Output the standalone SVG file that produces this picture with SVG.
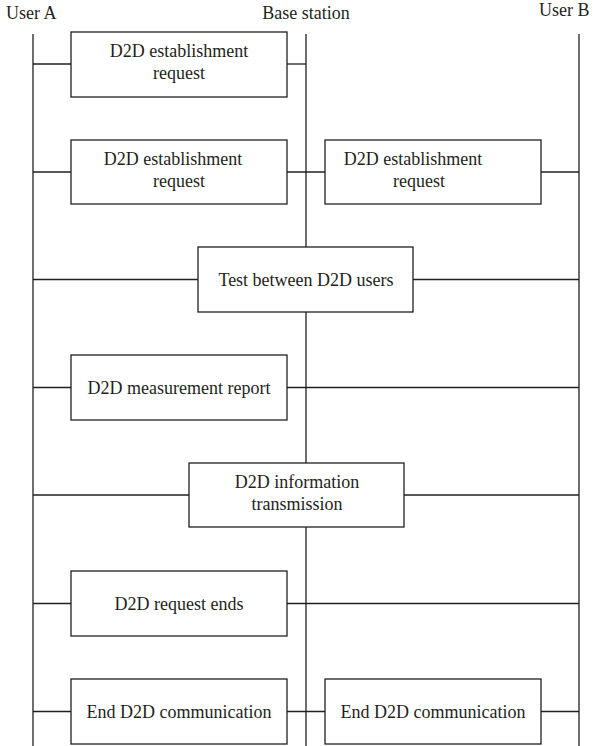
<svg xmlns="http://www.w3.org/2000/svg" width="605" height="746" viewBox="0 0 605 746">
<style>
  .ll { stroke: #231f20; stroke-width: 1.3; fill: none; }
  .cn { stroke: #231f20; stroke-width: 1.3; fill: none; }
  .box { fill: #ffffff; stroke: #231f20; stroke-width: 1.3; }
</style>
<rect width="605" height="746" fill="#ffffff"/>
<g id="headers">
  <text font-family="Liberation Serif" font-size="18" fill="#231f20" x="6" y="19">User A</text>
  <text font-family="Liberation Serif" font-size="18" fill="#231f20" text-anchor="middle" x="306" y="19">Base station</text>
  <text font-family="Liberation Serif" font-size="18" fill="#231f20" x="539" y="16">User B</text>
</g>
<g id="lifelines">
  <line class="ll" x1="33" y1="34" x2="33" y2="746"/>
  <line class="ll" x1="306" y1="34" x2="306" y2="746"/>
  <line class="ll" x1="579" y1="34" x2="579" y2="746"/>
</g>
<g id="connectors">
  <line class="cn" x1="33" y1="64" x2="71" y2="64"/>
  <line class="cn" x1="287" y1="64" x2="306" y2="64"/>
  <line class="cn" x1="33" y1="172" x2="71" y2="172"/>
  <line class="cn" x1="287" y1="172" x2="325" y2="172"/>
  <line class="cn" x1="541" y1="172" x2="579" y2="172"/>
  <line class="cn" x1="33" y1="279.5" x2="198" y2="279.5"/>
  <line class="cn" x1="413" y1="279.5" x2="579" y2="279.5"/>
  <line class="cn" x1="33" y1="387.5" x2="71" y2="387.5"/>
  <line class="cn" x1="287" y1="387.5" x2="579" y2="387.5"/>
  <line class="cn" x1="33" y1="495" x2="189" y2="495"/>
  <line class="cn" x1="404" y1="495" x2="579" y2="495"/>
  <line class="cn" x1="33" y1="603.5" x2="71" y2="603.5"/>
  <line class="cn" x1="287" y1="603.5" x2="579" y2="603.5"/>
  <line class="cn" x1="33" y1="711.5" x2="71" y2="711.5"/>
  <line class="cn" x1="287" y1="711.5" x2="325" y2="711.5"/>
  <line class="cn" x1="541" y1="711.5" x2="579" y2="711.5"/>
</g>
<g id="n1">
  <rect class="box" x="71" y="32" width="216" height="65"/>
  <text font-family="Liberation Serif" font-size="18" fill="#231f20" text-anchor="middle" x="179" y="57">D2D establishment</text>
  <text font-family="Liberation Serif" font-size="18" fill="#231f20" text-anchor="middle" x="179" y="79">request</text>
</g>
<g id="n2">
  <rect class="box" x="71" y="140" width="216" height="64"/>
  <text font-family="Liberation Serif" font-size="18" fill="#231f20" text-anchor="middle" x="173" y="164.5">D2D establishment</text>
  <text font-family="Liberation Serif" font-size="18" fill="#231f20" text-anchor="middle" x="179" y="186.5">request</text>
</g>
<g id="n3">
  <rect class="box" x="325" y="140" width="216" height="64"/>
  <text font-family="Liberation Serif" font-size="18" fill="#231f20" text-anchor="middle" x="413" y="164.5">D2D establishment</text>
  <text font-family="Liberation Serif" font-size="18" fill="#231f20" text-anchor="middle" x="419" y="186.5">request</text>
</g>
<g id="n4">
  <rect class="box" x="198" y="247" width="215" height="65"/>
  <text font-family="Liberation Serif" font-size="18" fill="#231f20" text-anchor="middle" x="306" y="286">Test between D2D users</text>
</g>
<g id="n5">
  <rect class="box" x="71" y="355" width="216" height="65"/>
  <text font-family="Liberation Serif" font-size="18" fill="#231f20" text-anchor="middle" x="179" y="394">D2D measurement report</text>
</g>
<g id="n6">
  <rect class="box" x="189" y="463" width="215" height="64"/>
  <text font-family="Liberation Serif" font-size="18" fill="#231f20" text-anchor="middle" x="297" y="487.5">D2D information</text>
  <text font-family="Liberation Serif" font-size="18" fill="#231f20" text-anchor="middle" x="297" y="509.5">transmission</text>
</g>
<g id="n7">
  <rect class="box" x="71" y="571" width="216" height="65"/>
  <text font-family="Liberation Serif" font-size="18" fill="#231f20" text-anchor="middle" x="179" y="610">D2D request ends</text>
</g>
<g id="n8">
  <rect class="box" x="71" y="679" width="216" height="65"/>
  <text font-family="Liberation Serif" font-size="18" fill="#231f20" text-anchor="middle" x="179" y="718">End D2D communication</text>
</g>
<g id="n9">
  <rect class="box" x="325" y="679" width="216" height="65"/>
  <text font-family="Liberation Serif" font-size="18" fill="#231f20" text-anchor="middle" x="433" y="718">End D2D communication</text>
</g>
</svg>
